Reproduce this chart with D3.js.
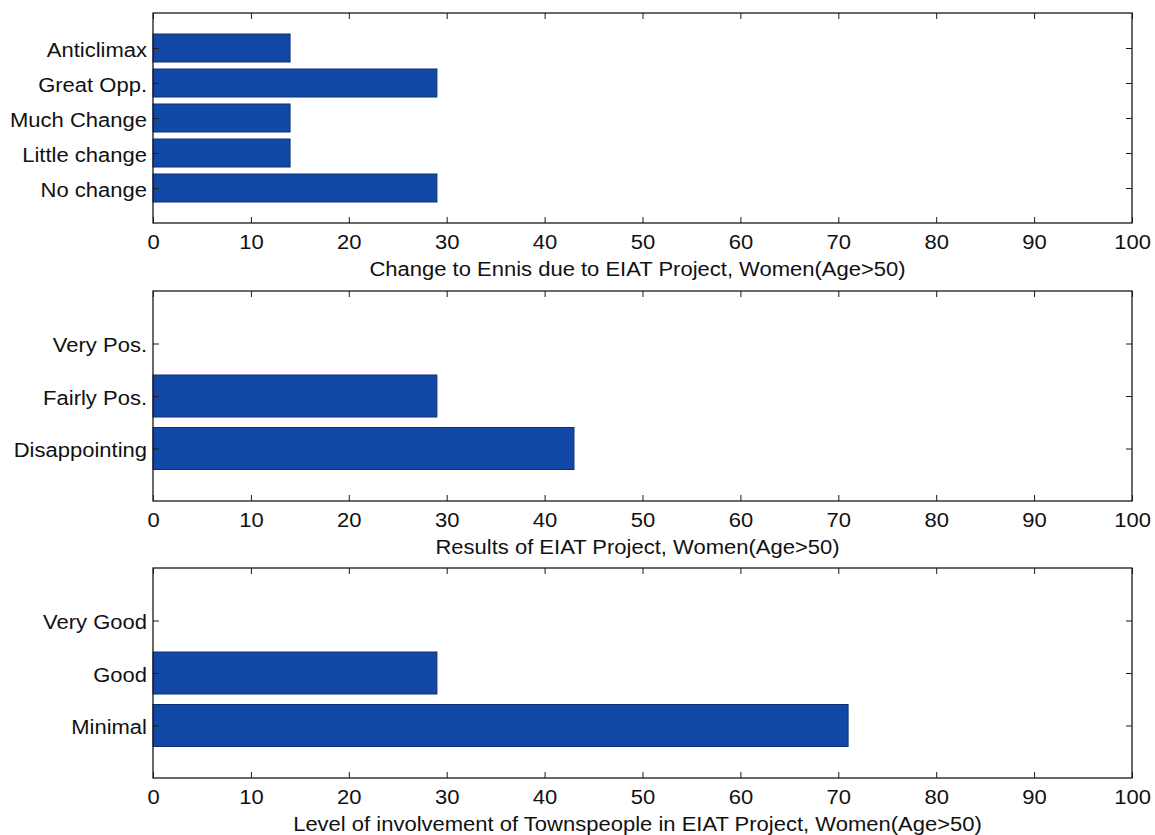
<!DOCTYPE html>
<html>
<head>
<meta charset="utf-8">
<script src="https://cdn.jsdelivr.net/npm/d3@7"></script>
<style>
  html, body { margin: 0; padding: 0; background: #fff; }
  svg text { font-family: "Liberation Sans", Arial, Helvetica, sans-serif; fill: #111; }
</style>
</head>
<body>
<svg id="chart" width="1155" height="835"></svg>
<script>
// Survey responses (percent), bottom category first as in a barh plot
const changeCategories = ["No change", "Little change", "Much Change", "Great Opp.", "Anticlimax"];
const changeValues = [29, 14, 14, 29, 14];

const resultsCategories = ["Disappointing", "Fairly Pos.", "Very Pos."];
const resultsValues = [43, 29, 0];

const involvementCategories = ["Minimal", "Good", "Very Good"];
const involvementValues = [71, 29, 0];

const xTicks = [0, 10, 20, 30, 40, 50, 60, 70, 80, 90, 100];

const panelTitles = [
  "Change to Ennis due to EIAT Project, Women(Age>50)",
  "Results of EIAT Project, Women(Age>50)",
  "Level of involvement of Townspeople in EIAT Project, Women(Age>50)"
];

const panels = [
  { cats: changeCategories, vals: changeValues, top: 13 },
  { cats: resultsCategories, vals: resultsValues, top: 291 },
  { cats: involvementCategories, vals: involvementValues, top: 568 }
];

const svg = d3.select("#chart");
const left = 153, right = 1132, height = 210;
const tickLen = 6;
const fontSize = 20;
const widen = 1.1; // the printed font runs a little wide
const barColor = "#1249a6", barEdge = "#0d2f6e", axisColor = "#1a1a1a";

function stretch(sel) {
  sel.each(function () {
    const w = this.getComputedTextLength();
    d3.select(this).attr("textLength", w * widen).attr("lengthAdjust", "spacingAndGlyphs");
  });
}

panels.forEach((p, i) => {
  const x = d3.scaleLinear().domain([0, 100]).range([left, right]);
  // categories sit at 1..n with limits [0, n+1]
  const y = d3.scaleLinear().domain([0, p.cats.length + 1]).range([p.top + height, p.top]);
  const step = y(0) - y(1);
  const barH = step * 0.8;
  const g = svg.append("g");

  // bars
  g.selectAll("rect.bar")
    .data(p.vals.map((v, k) => ({ v, k })))
    .join("rect")
    .attr("class", "bar")
    .attr("x", x(0))
    .attr("y", d => y(d.k + 1) - barH / 2)
    .attr("width", d => x(d.v) - x(0))
    .attr("height", barH)
    .attr("fill", barColor)
    .attr("stroke", d => d.v > 0 ? barEdge : "none")
    .attr("stroke-width", 1);

  // bottom axis with inward ticks
  const bottom = g.append("g")
    .attr("transform", `translate(0,${p.top + height})`)
    .call(d3.axisBottom(x).tickValues(xTicks).tickSizeInner(-tickLen).tickSizeOuter(0).tickPadding(12));
  bottom.select(".domain").remove();
  bottom.selectAll(".tick line").attr("stroke", axisColor);
  bottom.selectAll(".tick text").attr("font-size", fontSize).attr("dy", "0.71em").call(stretch);

  // top ticks
  const top = g.append("g")
    .attr("transform", `translate(0,${p.top})`)
    .call(d3.axisTop(x).tickValues(xTicks).tickSizeInner(-tickLen).tickSizeOuter(0).tickFormat(""));
  top.select(".domain").remove();
  top.selectAll(".tick line").attr("stroke", axisColor);

  // left axis with category labels
  const yTicks = p.cats.map((c, k) => k + 1);
  const leftAx = g.append("g")
    .attr("transform", `translate(${left},0)`)
    .call(d3.axisLeft(y).tickValues(yTicks).tickSizeInner(-tickLen).tickSizeOuter(0)
      .tickPadding(6).tickFormat(d => p.cats[d - 1]));
  leftAx.select(".domain").remove();
  leftAx.selectAll(".tick line").attr("stroke", axisColor);
  leftAx.selectAll(".tick text").attr("font-size", fontSize).attr("x", -6).attr("dy", "0.4em").call(stretch);

  // right ticks
  const rightAx = g.append("g")
    .attr("transform", `translate(${right},0)`)
    .call(d3.axisRight(y).tickValues(yTicks).tickSizeInner(-tickLen).tickSizeOuter(0).tickFormat(""));
  rightAx.select(".domain").remove();
  rightAx.selectAll(".tick line").attr("stroke", axisColor);

  // box
  g.append("rect")
    .attr("x", left).attr("y", p.top)
    .attr("width", right - left).attr("height", height)
    .attr("fill", "none").attr("stroke", axisColor).attr("stroke-width", 1.3);

  // axis title
  g.append("text")
    .attr("x", (left + right) / 2 - 5)
    .attr("y", p.top + height + 53)
    .attr("text-anchor", "middle")
    .attr("font-size", fontSize)
    .text(panelTitles[i])
    .call(stretch);
});
</script>
</body>
</html>
